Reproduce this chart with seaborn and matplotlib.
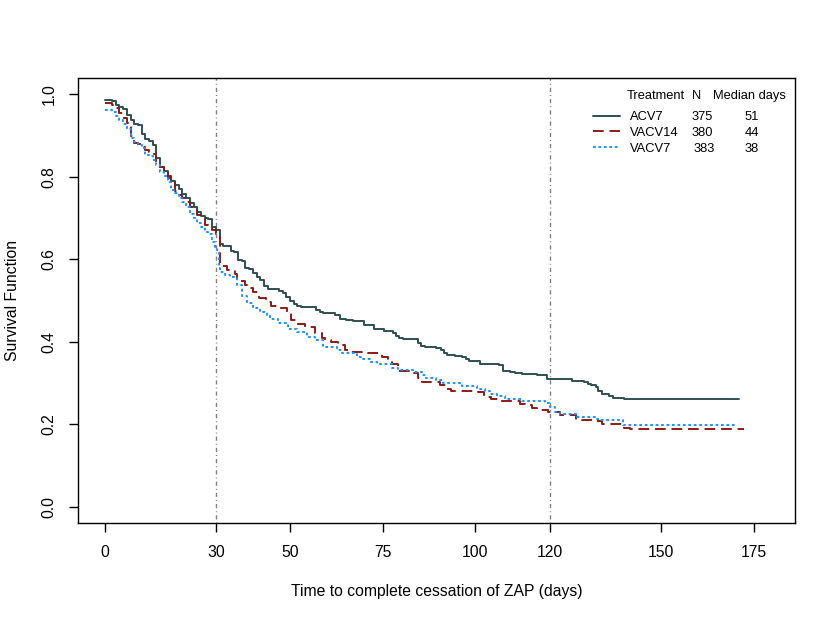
import numpy as np
import pandas as pd
import seaborn as sns
import matplotlib
matplotlib.use('Agg')
import matplotlib.pyplot as plt

# step data (time in days, survival after the step)
acv7_t = [0, 2, 3, 4, 5, 6, 7, 8, 9, 10, 11, 12, 13, 14, 15, 16, 17, 18, 19, 20,
          21, 22, 23, 24, 25, 26, 27, 28, 29, 30, 31, 32, 34, 35, 36, 37, 38, 39, 40, 41,
          42, 43, 44, 47, 48, 49, 50, 51, 52, 53, 57, 58, 59, 62, 63.5, 65, 67, 70, 72.6, 75.3,
          77.7, 78.6, 79.5, 80.5, 84.6, 85.3, 86.4, 89.5, 90.6, 91.6, 92.4, 94.5, 96.4, 97.5, 98.3,
          100.5, 101.3, 106.4, 107.3, 109.4, 110.6, 112.5, 116.5, 119.4, 126.0, 129.3, 130.3,
          131.2, 132.5, 133.1, 134.2, 136.0, 137.2, 140.0, 142.0, 171.0]
acv7_s = [0.987, 0.983, 0.975, 0.970, 0.965, 0.951, 0.937, 0.929, 0.925, 0.904, 0.893, 0.886,
          0.878, 0.846, 0.825, 0.815, 0.797, 0.791, 0.780, 0.771, 0.758, 0.748, 0.737, 0.727,
          0.716, 0.705, 0.700, 0.697, 0.679, 0.670, 0.637, 0.633, 0.621, 0.617, 0.598, 0.595,
          0.580, 0.577, 0.566, 0.556, 0.549, 0.535, 0.529, 0.523, 0.517, 0.509, 0.499, 0.491,
          0.487, 0.484, 0.476, 0.473, 0.470, 0.465, 0.455, 0.453, 0.450, 0.440, 0.431, 0.426,
          0.420, 0.414, 0.410, 0.406, 0.396, 0.390, 0.387, 0.384, 0.380, 0.372, 0.367, 0.365,
          0.363, 0.359, 0.354, 0.352, 0.346, 0.343, 0.330, 0.326, 0.324, 0.321, 0.318, 0.309,
          0.304, 0.301, 0.298, 0.294, 0.291, 0.280, 0.273, 0.269, 0.264, 0.262, 0.260, 0.260]

vacv14_t = [0, 2, 3, 4, 5, 6, 7, 8, 9, 10, 11, 12, 13, 14, 15, 16, 17, 18, 19, 20,
            21, 22, 23, 24, 25, 26, 27, 28, 29, 30, 31, 33, 35.2, 35.8, 37.9, 38.7, 40.1, 41.7,
            43.5, 44.8, 47.3, 49.3, 50.2, 51.8, 54.0, 56.8, 58.5, 59.4, 61.0, 63.0, 64.8, 66.2,
            71.1, 74.7, 76.5, 77.4, 79.2, 83.4, 84.6, 85.5, 90.4, 92.4, 93.3, 100.8, 102.3,
            104.1, 106.6, 112.1, 113.3, 115.2, 116.5, 119.6, 122.8, 127.0, 132.2, 134.1, 140.0,
            141.7, 172.4]
vacv14_s = [0.980, 0.974, 0.968, 0.954, 0.943, 0.931, 0.899, 0.883, 0.880, 0.872, 0.866, 0.860,
            0.856, 0.835, 0.824, 0.813, 0.801, 0.793, 0.765, 0.757, 0.749, 0.740, 0.728, 0.720,
            0.708, 0.700, 0.684, 0.680, 0.672, 0.662, 0.584, 0.573, 0.564, 0.548, 0.538, 0.530,
            0.521, 0.507, 0.497, 0.487, 0.481, 0.469, 0.453, 0.443, 0.436, 0.420, 0.408, 0.404,
            0.400, 0.392, 0.380, 0.375, 0.372, 0.362, 0.351, 0.345, 0.330, 0.323, 0.311, 0.302,
            0.296, 0.286, 0.281, 0.277, 0.266, 0.261, 0.257, 0.250, 0.246, 0.238, 0.234, 0.229,
            0.221, 0.211, 0.207, 0.201, 0.191, 0.187, 0.187]

vacv7_t = [0, 2, 3, 4, 5, 6, 7, 8, 9, 10, 11, 12, 13, 14, 15, 16, 17, 18, 19, 20,
           21, 22, 23, 24, 25, 26, 27, 28, 29, 29.8, 30.3, 30.8, 31.1, 32.5, 33.8, 35.6, 37.0,
           38.3, 40.1, 41.9, 43.7, 44.6, 46.8, 49.5, 51.8, 54.5, 56.7, 59.0, 62.6, 63.9, 68.0,
           69.8, 71.6, 73.4, 77.4, 79.2, 83.2, 85.5, 86.8, 89.5, 91.3, 96.3, 100.5, 102.6, 103.9,
           105.7, 108.0, 112.5, 118.7, 120.1, 121.4, 122.8, 127.3, 132.2, 133.6, 139.8, 170.4]
vacv7_s = [0.963, 0.958, 0.948, 0.937, 0.929, 0.917, 0.895, 0.884, 0.878, 0.870, 0.852, 0.850,
           0.842, 0.830, 0.812, 0.801, 0.788, 0.769, 0.761, 0.749, 0.740, 0.726, 0.710, 0.700,
           0.689, 0.678, 0.667, 0.661, 0.643, 0.631, 0.623, 0.578, 0.570, 0.562, 0.556, 0.538,
           0.510, 0.493, 0.483, 0.473, 0.465, 0.454, 0.446, 0.432, 0.424, 0.412, 0.403, 0.386,
           0.380, 0.372, 0.363, 0.359, 0.351, 0.347, 0.335, 0.331, 0.327, 0.319, 0.313, 0.307,
           0.299, 0.292, 0.285, 0.280, 0.274, 0.269, 0.262, 0.255, 0.252, 0.242, 0.229, 0.224,
           0.217, 0.213, 0.209, 0.199, 0.199]

treatments = ['ACV7', 'VACV14', 'VACV7']
n_patients = [375, 380, 383]
median_days = [51, 44, 38]
x_ticks = [0, 30, 50, 75, 100, 120, 150, 175]
y_ticks = [0.0, 0.2, 0.4, 0.6, 0.8, 1.0]
ref_days = [30, 120]

df = pd.concat([
    pd.DataFrame({'time': acv7_t, 'surv': acv7_s, 'trt': 'ACV7'}),
    pd.DataFrame({'time': vacv14_t, 'surv': vacv14_s, 'trt': 'VACV14'}),
    pd.DataFrame({'time': vacv7_t, 'surv': vacv7_s, 'trt': 'VACV7'}),
], ignore_index=True)

sns.set_style('ticks')
plt.rcParams['font.family'] = ['Liberation Sans', 'DejaVu Sans']
plt.rcParams['text.color'] = 'black'
plt.rcParams['axes.labelcolor'] = 'black'
plt.rcParams['xtick.color'] = 'black'
plt.rcParams['ytick.color'] = 'black'

pal = {'ACV7': '#2F4F4F', 'VACV14': '#8B1A1A', 'VACV7': '#1E90FF'}
dash = {'ACV7': '', 'VACV14': (5.5, 3), 'VACV7': (1.4, 1.4)}

fig = plt.figure(figsize=(8.35, 6.21), dpi=100)
ax = fig.add_axes([0.0934, 0.1578, 0.8587, 0.7166])

for d in ref_days:
    ax.axvline(d, color='#808080', lw=1, dashes=(0.7, 2.2, 3.0, 2.2), zorder=1)

sns.lineplot(data=df, x='time', y='surv', hue='trt', style='trt',
             palette=pal, dashes=dash, estimator=None, drawstyle='steps-post',
             lw=1.4, legend=False, ax=ax, zorder=2)

ax.set_xlim(-7.16, 186.16)
ax.set_ylim(-0.04, 1.04)
ax.set_xticks(x_ticks)
ax.set_xticklabels([str(v) for v in x_ticks])
ax.set_yticks(y_ticks)
ax.set_yticklabels(['%.1f' % v for v in y_ticks], rotation=90, va='center')
ax.tick_params(axis='both', direction='out', length=6.5, width=1, color='black',
               labelcolor='black', labelsize=11.3, pad=9)
for s in ax.spines.values():
    s.set_visible(True)
    s.set_color('black')
    s.set_linewidth(1)

ax.set_xlabel('Time to complete cessation of ZAP (days)', fontsize=11.3)
ax.set_ylabel('Survival Function', fontsize=11.3)
ax.xaxis.set_label_coords(0.5, -0.153)
ax.xaxis.label.set_va('center')
ax.yaxis.set_label_coords(-0.092, 0.5)
ax.yaxis.label.set_va('center')

# legend: line samples and treatment names, then N and median columns
handles = ax.get_lines()[len(ref_days):]
leg = ax.legend(handles, treatments, loc='upper left',
                bbox_to_anchor=(593 / 835, 1 - 111 / 621), bbox_transform=fig.transFigure,
                frameon=False, fontsize=9.3, handlelength=2.1, handletextpad=0.75,
                labelspacing=0.3, borderpad=0, borderaxespad=0)
fig.text(627 / 835, 1 - 96 / 621, 'Treatment', fontsize=9.3, va='center')
fig.text(692 / 835, 1 - 96 / 621, 'N', fontsize=9.3, va='center')
fig.text(713 / 835, 1 - 96 / 621, 'Median days', fontsize=9.3, va='center')

fig.canvas.draw()
inv = fig.transFigure.inverted()
for i, txt in enumerate(leg.get_texts()):
    bb = txt.get_window_extent()
    yc = inv.transform((0, (bb.y0 + bb.y1) / 2))[1]
    fig.text((692 + (2 if i == 2 else 0)) / 835, yc, str(n_patients[i]), fontsize=9.3, va='center')
    fig.text(745 / 835, yc, str(median_days[i]), fontsize=9.3, va='center')

fig.savefig('out.png', dpi=100, facecolor='white')
